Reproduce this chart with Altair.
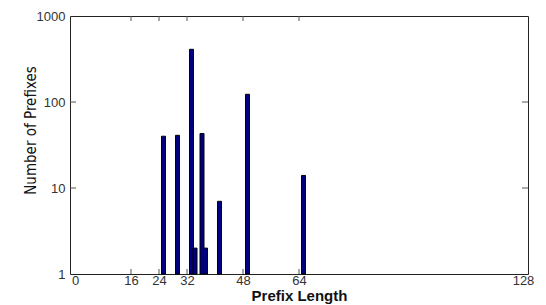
import altair as alt
import pandas as pd

# Data
prefix_length = [25, 29, 33, 34, 36, 37, 41, 49, 65]
num_prefixes = [40, 41, 410, 2, 43, 2, 7, 123, 14]

x_ticks = [0, 16, 24, 32, 48, 64, 128]
y_ticks = [1, 10, 100, 1000]
x_inner_ticks = [16, 24, 32, 48, 64]
y_inner_ticks = [10, 100]

W, H = 458, 258

bars_df = pd.DataFrame({"len": prefix_length, "n": num_prefixes})
xt_df = pd.DataFrame({"v": x_inner_ticks})
yt_df = pd.DataFrame({"v": y_inner_ticks})

xscale = alt.Scale(domain=[0, 128], nice=False, zero=False)
yscale = alt.Scale(type="log", domain=[1, 1000], nice=False)

label_font = "Liberation Sans"

xaxis = alt.Axis(
    values=x_ticks, title="Prefix Length", grid=False, domain=False,
    ticks=False, labelPadding=0, labelFontSize=13, labelFont=label_font,
    labelColor="#333333", titleFont=label_font, titleFontSize=15,
    titleFontWeight="bold", titleColor="#111111", titleY=26,
    titleBaseline="alphabetic",
    labelFlush=False, labelOverlap=False,
)
yaxis = alt.Axis(
    values=y_ticks, format="d", title="Number of Prefixes", grid=False,
    domain=False, ticks=False, labelPadding=5, labelFontSize=13,
    labelFont=label_font, labelColor="#333333",
    titleFont="DejaVu Sans Condensed, Liberation Sans, sans-serif",
    titleFontSize=15, titleFontWeight="normal", titleColor="#111111",
    titleX=-40, titleY=114, titleBaseline="middle", titleAngle=-90,
    labelFlush=False, labelOverlap=False,
)

bars = alt.Chart(bars_df).mark_bar(
    width=4, fill="#000080", stroke="#000000", strokeWidth=1, xOffset=1
).encode(
    x=alt.X("len:Q", scale=xscale, axis=xaxis),
    y=alt.Y("n:Q", scale=yscale, axis=yaxis),
    y2=alt.datum(1),
)

tick_style = dict(color="#555555", strokeWidth=1)

bottom_ticks = alt.Chart(xt_df).mark_rule(**tick_style).encode(
    x=alt.X("v:Q", scale=xscale), y=alt.value(H), y2=alt.value(H - 5)
)
top_ticks = alt.Chart(xt_df).mark_rule(**tick_style).encode(
    x=alt.X("v:Q", scale=xscale), y=alt.value(0), y2=alt.value(5)
)
left_ticks = alt.Chart(yt_df).mark_rule(**tick_style).encode(
    y=alt.Y("v:Q", scale=yscale), x=alt.value(0), x2=alt.value(6)
)
right_ticks = alt.Chart(yt_df).mark_rule(**tick_style).encode(
    y=alt.Y("v:Q", scale=yscale), x=alt.value(W), x2=alt.value(W - 6)
)

chart = alt.layer(
    bars, bottom_ticks, top_ticks, left_ticks, right_ticks
).properties(
    width=W, height=H,
    autosize=alt.AutoSizeParams(type="none"),
    padding={"left": 62, "top": 8, "right": 10, "bottom": 30},
    background="white",
).configure_view(
    stroke="#222222", strokeWidth=1
)

chart.save("out.html", embed_options={"renderer": "svg", "actions": False})
